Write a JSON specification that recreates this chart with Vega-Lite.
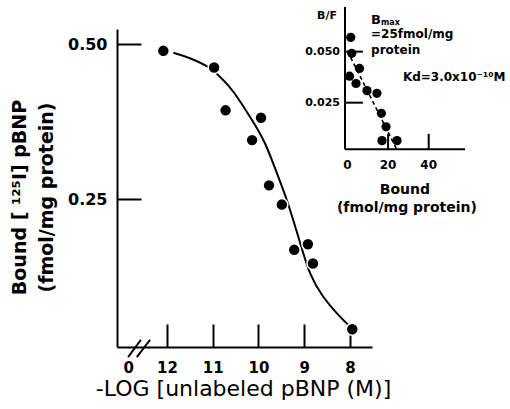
{
  "$schema": "https://vega.github.io/schema/vega-lite/v6.json",
  "width": 255,
  "height": 318,
  "autosize": {"type": "none"},
  "padding": {"left": 117, "top": 29, "right": 138, "bottom": 62},
  "background": "white",
  "config": {"view": {"stroke": null}, "font": "DejaVu Sans"},
  "datasets": {
    "points": [
      {"nlog": 12.08, "bound": 0.489},
      {"nlog": 10.97, "bound": 0.462},
      {"nlog": 10.72, "bound": 0.393},
      {"nlog": 9.945, "bound": 0.381},
      {"nlog": 10.14, "bound": 0.345},
      {"nlog": 9.77, "bound": 0.272},
      {"nlog": 9.49, "bound": 0.241},
      {"nlog": 9.22, "bound": 0.168},
      {"nlog": 8.92, "bound": 0.177},
      {"nlog": 8.81, "bound": 0.146},
      {"nlog": 7.95, "bound": 0.040}
    ],
    "curve": [
      {"nlog": 11.86, "bound": 0.486},
      {"nlog": 11.5, "bound": 0.477},
      {"nlog": 11.06, "bound": 0.461},
      {"nlog": 10.8, "bound": 0.444},
      {"nlog": 10.55, "bound": 0.423},
      {"nlog": 10.19, "bound": 0.383},
      {"nlog": 9.86, "bound": 0.340},
      {"nlog": 9.6, "bound": 0.292},
      {"nlog": 9.38, "bound": 0.248},
      {"nlog": 9.13, "bound": 0.189},
      {"nlog": 8.87, "bound": 0.130},
      {"nlog": 8.58, "bound": 0.092},
      {"nlog": 8.29, "bound": 0.066},
      {"nlog": 8.04, "bound": 0.047}
    ],
    "breaks": [
      {"nlog": 12.85, "bound": -0.005, "nlog2": 12.57, "bound2": 0.023},
      {"nlog": 12.66, "bound": -0.005, "nlog2": 12.37, "bound2": 0.023}
    ],
    "scatchard": [
      {"b": 1.6, "bf": 0.057},
      {"b": 2.1, "bf": 0.0492},
      {"b": 5.9, "bf": 0.0418},
      {"b": 1.0, "bf": 0.038},
      {"b": 4.2, "bf": 0.0344},
      {"b": 9.6, "bf": 0.0309},
      {"b": 14.5, "bf": 0.0296},
      {"b": 16.7, "bf": 0.0198},
      {"b": 19.0, "bf": 0.0132},
      {"b": 17.0, "bf": 0.0064},
      {"b": 24.4, "bf": 0.0064}
    ],
    "fit": [
      {"b": 0, "bf": 0.0503, "b2": 24.2, "bf2": 0.0022}
    ],
    "insetAxes": [
      {"b": -1.23, "bf": 0.00216, "b2": -1.23, "bf2": 0.0719},
      {"b": -1.23, "bf": 0.00216, "b2": 57.9, "bf2": 0.00216},
      {"b": -1.23, "bf": 0.05, "b2": 7.6, "bf2": 0.05},
      {"b": -1.23, "bf": 0.025, "b2": 7.6, "bf2": 0.025},
      {"b": 20, "bf": 0.00216, "b2": 20, "bf2": 0.0097},
      {"b": 40, "bf": 0.00216, "b2": 40, "bf2": 0.0097}
    ],
    "insetYLabels": [
      {"t": "0.050", "b": -3.7, "bf": 0.05},
      {"t": "0.025", "b": -3.7, "bf": 0.025},
      {"t": "B/F", "b": -5.2, "bf": 0.0675}
    ],
    "insetXLabels": [
      {"t": "0", "b": 0, "bf": -0.0055},
      {"t": "20", "b": 20, "bf": -0.0055},
      {"t": "40", "b": 40, "bf": -0.0055}
    ],
    "insetTitle": [
      {"t": "Bound", "b": 28.3, "bf": -0.0178},
      {"t": "(fmol/mg protein)", "b": 29.3, "bf": -0.0266}
    ],
    "notes": [
      {"t": "=25fmol/mg", "b": 11.6, "bf": 0.0567},
      {"t": "protein", "b": 11.6, "bf": 0.0489},
      {"t": "Kd=3.0x10⁻¹⁰M", "b": 27.3, "bf": 0.0356}
    ],
    "bmaxB": [{"t": "B", "b": 11.6, "bf": 0.0636}],
    "bmaxSub": [{"t": "max", "b": 16.5, "bf": 0.0631}]
  },
  "layer": [
    {
      "encoding": {
        "x": {
          "field": "nlog", "type": "quantitative",
          "scale": {"domain": [7.519, 13.093], "reverse": true, "zero": false, "nice": false},
          "axis": {
            "values": [12.85, 12, 11, 10, 9, 8],
            "labelExpr": "datum.value > 12.5 ? '0' : format(datum.value, 'd')",
            "tickSize": -23, "tickWidth": 2, "tickColor": "black",
            "tickOpacity": {"condition": {"test": "datum.value > 12.5", "value": 0}, "value": 1},
            "domainWidth": 2, "domainColor": "black",
            "labelFont": "DejaVu Sans", "labelFontWeight": "bold", "labelFontSize": 15, "labelColor": "black",
            "labelPadding": 36, "labelFlush": false, "labelOverlap": false,
            "grid": false,
            "title": "-LOG [unlabeled pBNP (M)]",
            "titleFont": "DejaVu Sans", "titleFontSize": 22, "titleFontWeight": "normal", "titleColor": "black",
            "titleX": 126, "titleY": 41, "titleBaseline": "middle", "titleAlign": "center"
          }
        },
        "y": {
          "field": "bound", "type": "quantitative",
          "scale": {"domain": [0.0113, 0.5242], "zero": false, "nice": false},
          "axis": {
            "values": [0.25, 0.5], "format": ".2f",
            "tickSize": -24, "tickWidth": 2, "tickColor": "black",
            "domainWidth": 2, "domainColor": "black",
            "labelFont": "DejaVu Sans", "labelFontWeight": "bold", "labelFontSize": 16, "labelColor": "black",
            "labelPadding": 34, "labelFlush": false, "labelOverlap": false,
            "grid": false,
            "title": ["Bound [ ¹²⁵I] pBNP", "(fmol/mg protein)"],
            "titleFont": "DejaVu Sans", "titleFontSize": 19, "titleFontWeight": "bold", "titleColor": "black",
            "titleLineHeight": 27, "titleAngle": -90,
            "titleX": -97.5, "titleY": 168, "titleBaseline": "middle", "titleAlign": "center"
          }
        }
      },
      "layer": [
        {
          "data": {"name": "curve"},
          "mark": {"type": "line", "color": "black", "strokeWidth": 2, "interpolate": "natural", "clip": false}
        },
        {
          "data": {"name": "points"},
          "mark": {"type": "point", "filled": true, "shape": "circle", "size": 143, "color": "black", "stroke": "white", "strokeWidth": 1.5, "opacity": 1, "clip": false}
        },
        {
          "data": {"name": "breaks"},
          "mark": {"type": "rule", "color": "black", "strokeWidth": 2, "clip": false},
          "encoding": {"x2": {"field": "nlog2"}, "y2": {"field": "bound2"}}
        }
      ]
    },
    {
      "encoding": {
        "x": {
          "field": "b", "type": "quantitative",
          "scale": {"domain": [-113.55, 12.07], "zero": false, "nice": false},
          "axis": null
        },
        "y": {
          "field": "bf", "type": "quantitative",
          "scale": {"domain": [-0.09472, 0.0611], "zero": false, "nice": false},
          "axis": null
        }
      },
      "layer": [
        {
          "data": {"name": "insetAxes"},
          "mark": {"type": "rule", "color": "black", "strokeWidth": 2, "clip": false},
          "encoding": {"x2": {"field": "b2"}, "y2": {"field": "bf2"}}
        },
        {
          "data": {"name": "fit"},
          "mark": {"type": "rule", "color": "black", "strokeWidth": 1.6, "strokeDash": [4, 3], "clip": false},
          "encoding": {"x2": {"field": "b2"}, "y2": {"field": "bf2"}}
        },
        {
          "data": {"name": "scatchard"},
          "mark": {"type": "point", "filled": true, "shape": "circle", "size": 85, "color": "black", "opacity": 1, "clip": false}
        },
        {
          "data": {"name": "insetYLabels"},
          "mark": {"type": "text", "align": "right", "baseline": "middle", "font": "DejaVu Sans", "fontWeight": "bold", "fontSize": 11, "color": "black", "clip": false},
          "encoding": {"text": {"field": "t"}}
        },
        {
          "data": {"name": "insetXLabels"},
          "mark": {"type": "text", "align": "center", "baseline": "middle", "font": "DejaVu Sans", "fontWeight": "bold", "fontSize": 12, "color": "black", "clip": false},
          "encoding": {"text": {"field": "t"}}
        },
        {
          "data": {"name": "insetTitle"},
          "mark": {"type": "text", "align": "center", "baseline": "middle", "font": "DejaVu Sans", "fontWeight": "bold", "fontSize": 14, "color": "black", "clip": false},
          "encoding": {"text": {"field": "t"}}
        },
        {
          "data": {"name": "notes"},
          "mark": {"type": "text", "align": "left", "baseline": "alphabetic", "font": "DejaVu Sans", "fontWeight": "bold", "fontSize": 12, "color": "black", "clip": false},
          "encoding": {"text": {"field": "t"}}
        },
        {
          "data": {"name": "bmaxB"},
          "mark": {"type": "text", "align": "left", "baseline": "alphabetic", "font": "DejaVu Sans", "fontWeight": "bold", "fontSize": 13, "color": "black", "clip": false},
          "encoding": {"text": {"field": "t"}}
        },
        {
          "data": {"name": "bmaxSub"},
          "mark": {"type": "text", "align": "left", "baseline": "alphabetic", "font": "DejaVu Sans", "fontWeight": "bold", "fontSize": 8, "color": "black", "clip": false},
          "encoding": {"text": {"field": "t"}}
        }
      ]
    }
  ],
  "resolve": {"scale": {"x": "independent", "y": "independent"}}
}
